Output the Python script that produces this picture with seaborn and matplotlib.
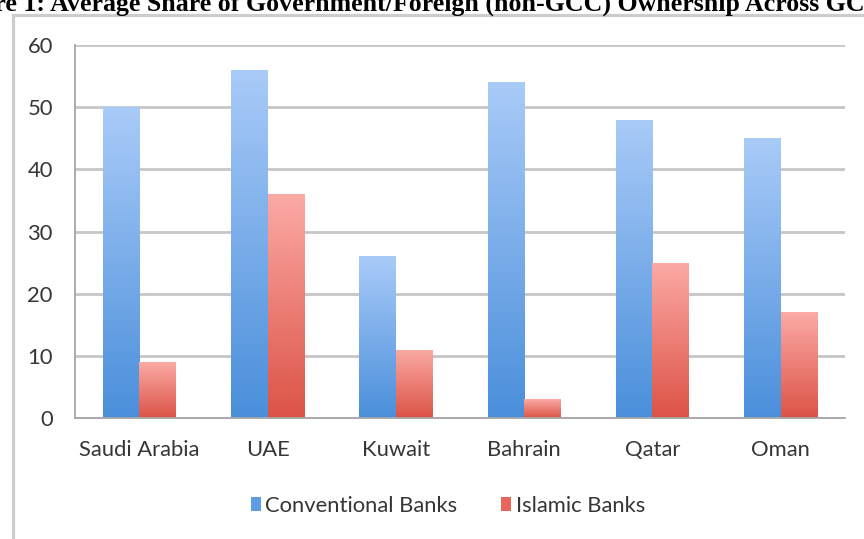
import seaborn as sns
import matplotlib.pyplot as plt
import matplotlib.colors as mcolors
from matplotlib.patches import Patch, Rectangle
import numpy as np
import pandas as pd

# data
countries = ["Saudi Arabia", "UAE", "Kuwait", "Bahrain", "Qatar", "Oman"]
conventional = [50, 56, 26, 54, 48, 45]
islamic = [9, 36, 11, 3, 25, 17]
series = ["Conventional Banks", "Islamic Banks"]
y_ticks = [0, 10, 20, 30, 40, 50, 60]
title = "Figure 1: Average Share of Government/Foreign (non-GCC) Ownership Across GCC"

df = pd.DataFrame({
    "country": countries * 2,
    "share": conventional + islamic,
    "bank": [series[0]] * len(countries) + [series[1]] * len(countries),
})

# gradient colours (bottom, top) and flat legend colours
grads = {series[0]: ("#4a8fdb", "#a9cbf8"), series[1]: ("#dc5346", "#fbaaa5")}
flat = {series[0]: "#5b9ce2", series[1]: "#e8675d"}
txt = "#363636"
fsize = 15.8

sns.set_style("white")
plt.rcParams["font.family"] = ["Lato", "DejaVu Sans"]

fig = plt.figure(figsize=(8.64, 5.39), dpi=100)
ax = fig.add_axes([75 / 864, 1 - 418 / 539, 770 / 864, 373 / 539])

sns.barplot(data=df, x="country", y="share", hue="bank", palette=flat,
            width=0.57, saturation=1, legend=False, ax=ax)

ax.set_xlim(-0.5, len(countries) - 0.5)
ax.set_ylim(0, 60)
xl, yl = ax.get_xlim(), ax.get_ylim()

# swap flat bar fills for vertical gradients
ramp = np.linspace(0, 1, 256).reshape(-1, 1)
n = len(countries)
for i, bar in enumerate(ax.patches):
    lo, hi = grads[series[i // n]]
    cmap = mcolors.LinearSegmentedColormap.from_list("g", [lo, hi])
    x0, y0 = bar.get_x(), bar.get_y()
    w, h = bar.get_width(), bar.get_height()
    im = ax.imshow(ramp, cmap=cmap, origin="lower", aspect="auto",
                   extent=(x0, x0 + w, y0, y0 + h), zorder=2)
    im.set_clip_path(bar)
    bar.set_facecolor("none")
    bar.set_edgecolor("none")
ax.set_xlim(xl)
ax.set_ylim(yl)

# grid, spines, ticks
ax.set_axisbelow(True)
ax.yaxis.grid(True, color="#c6c6c6", linewidth=2)
ax.set_yticks(y_ticks)
for s in ["top", "right"]:
    ax.spines[s].set_visible(False)
for s in ["left", "bottom"]:
    ax.spines[s].set_color("#a6a6a6")
    ax.spines[s].set_linewidth(1.3)
ax.set_xticks(np.arange(-0.5, n, 1.0), minor=True)
ax.tick_params(axis="x", which="major", length=0, pad=16, labelsize=fsize, labelcolor=txt)
ax.tick_params(axis="x", which="minor", length=5, width=1.2, color="#a6a6a6", direction="out")
ax.tick_params(axis="y", length=5, width=1.2, color="#a6a6a6", pad=11, labelsize=fsize, labelcolor=txt)
ax.set_xlabel("")
ax.set_ylabel("")

# legend at the bottom
handles = [Patch(facecolor=flat[s], edgecolor="none", label=s) for s in series]
fig.legend(handles=handles, loc="center", bbox_to_anchor=(448 / 864, 1 - 506 / 539),
           ncol=2, frameon=False, fontsize=fsize, handlelength=0.45, handleheight=0.6,
           handletextpad=0.2, columnspacing=2.0, labelcolor=txt)

# chart-area frame, running off the right and bottom edges
fig.patches.append(Rectangle((13 / 864, -0.2), 1.2, 1.2 - 15 / 539, transform=fig.transFigure,
                             fill=False, edgecolor="#cdcdcd", linewidth=2.3))

# clipped caption above the chart
fig.canvas.draw()
r = fig.canvas.get_renderer()
tfont = dict(family=["Liberation Serif", "DejaVu Serif"], weight="bold")
probe = fig.text(0, 0, title[4:-1], fontsize=10, **tfont)
pw = probe.get_window_extent(r).width
probe.remove()
tsize = 10 * 872 / pw
probe = fig.text(0, 0, title[:4], fontsize=tsize, **tfont)
prefix = probe.get_window_extent(r).width
probe.remove()
fig.text((-6 - prefix) / 864, 1 - 10.5 / 539, title, fontsize=tsize, ha="left", va="baseline",
         color="black", **tfont)

fig.savefig("out.png", dpi=100)
